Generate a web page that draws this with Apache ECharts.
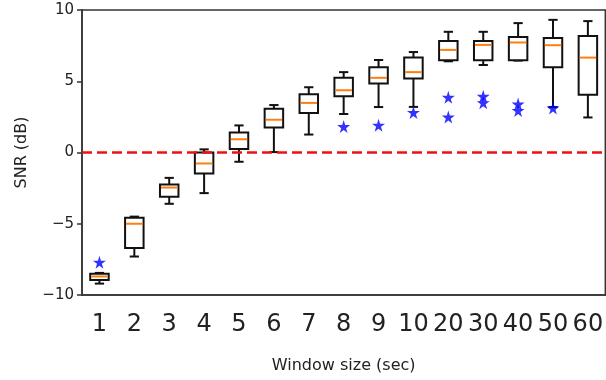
<!DOCTYPE html>
<html>
<head>
<meta charset="utf-8">
<script src="https://cdn.jsdelivr.net/npm/echarts@6/dist/echarts.min.js"></script>
<style>
  html, body { margin: 0; padding: 0; background: #fff; }
  #chart { width: 606px; height: 380px; }
</style>
</head>
<body>
<div id="chart"></div>
<script>
// window sizes on the x axis
const windowSizes = ['1', '2', '3', '4', '5', '6', '7', '8', '9', '10', '20', '30', '40', '50', '60'];

// box statistics (SNR in dB)
const whiskerLow  = [-9.2, -7.3, -3.6, -2.85, -0.65, 0.03, 1.26, 2.7, 3.19, 3.2, 6.4, 6.14, 6.45, 3.19, 2.46];
const q1          = [-8.95, -6.7, -3.1, -1.47, 0.25, 1.75, 2.77, 3.94, 4.84, 5.2, 6.47, 6.47, 6.47, 5.99, 4.06];
const medians     = [-8.7, -5.0, -2.46, -0.77, 0.93, 2.3, 3.48, 4.37, 5.24, 5.64, 7.2, 7.55, 7.72, 7.53, 6.66];
const q3          = [-8.5, -4.58, -2.25, 0.0, 1.4, 3.07, 4.09, 5.24, 5.99, 6.66, 7.83, 7.83, 8.11, 8.04, 8.18];
const whiskerHigh = [-8.45, -4.5, -1.78, 0.22, 1.9, 3.33, 4.58, 5.64, 6.49, 7.05, 8.47, 8.47, 9.08, 9.31, 9.22];

// outliers (stars)
const flierWindow = ['1', '8', '9', '10', '20', '20', '30', '30', '40', '40', '50'];
const flierSnr    = [-7.7, 1.82, 1.92, 2.81, 3.87, 2.49, 3.94, 3.5, 3.4, 2.95, 3.12];

const yTicks = [-10, -5, 0, 5, 10];

const chart = echarts.init(document.getElementById('chart'), null, { renderer: 'canvas' });

const boxData = windowSizes.map((w, i) => [i, whiskerLow[i], q1[i], medians[i], q3[i], whiskerHigh[i]]);
const flierData = flierWindow.map((w, i) => [w, flierSnr[i]]);

const starPath = 'path://M50,0 L61,35 L98,35 L68,57 L79,91 L50,70 L21,91 L32,57 L2,35 L39,35 Z';

function renderBox(params, api) {
  const x = api.coord([api.value(0), 0])[0];
  const yLow = api.coord([api.value(0), api.value(1)])[1];
  const yQ1 = api.coord([api.value(0), api.value(2)])[1];
  const yMed = api.coord([api.value(0), api.value(3)])[1];
  const yQ3 = api.coord([api.value(0), api.value(4)])[1];
  const yHigh = api.coord([api.value(0), api.value(5)])[1];
  const band = api.size([1, 0])[0];
  const boxW = band * 0.53;
  const capW = boxW / 2;
  const black = { stroke: '#111', lineWidth: 2, fill: null };
  return {
    type: 'group',
    children: [
      { type: 'line', shape: { x1: x, y1: yQ1, x2: x, y2: yLow }, style: black },
      { type: 'line', shape: { x1: x, y1: yQ3, x2: x, y2: yHigh }, style: black },
      { type: 'line', shape: { x1: x - capW / 2, y1: yLow, x2: x + capW / 2, y2: yLow }, style: black },
      { type: 'line', shape: { x1: x - capW / 2, y1: yHigh, x2: x + capW / 2, y2: yHigh }, style: black },
      { type: 'rect', shape: { x: x - boxW / 2, y: yQ3, width: boxW, height: yQ1 - yQ3 },
        style: { stroke: '#111', lineWidth: 2, fill: '#fff' } },
      { type: 'line', shape: { x1: x - boxW / 2 + 1, y1: yMed, x2: x + boxW / 2 - 1, y2: yMed },
        style: { stroke: '#ff7f0e', lineWidth: 2 } }
    ]
  };
}

const option = {
  animation: false,
  backgroundColor: '#fff',
  grid: {
    left: 82,
    top: 10,
    bottom: 85,
    width: 528,
    show: true,
    borderColor: '#333',
    borderWidth: 1.5
  },
  xAxis: {
    type: 'category',
    data: windowSizes,
    boundaryGap: true,
    name: 'Window size (sec)',
    nameLocation: 'middle',
    nameGap: 63,
    nameTextStyle: { fontSize: 16, color: '#222', fontFamily: 'DejaVu Sans' },
    axisLine: { onZero: false, lineStyle: { color: '#333', width: 1.5 } },
    axisTick: { alignWithLabel: true, length: 6, lineStyle: { color: '#333', width: 1.5 } },
    axisLabel: { fontSize: 24, color: '#222', margin: 18, fontFamily: 'DejaVu Sans', interval: 0 },
    splitLine: { show: false }
  },
  yAxis: {
    type: 'value',
    min: -10,
    max: 10,
    interval: 5,
    name: 'SNR (dB)',
    nameLocation: 'middle',
    nameGap: 52,
    nameTextStyle: { fontSize: 16, color: '#222', fontFamily: 'DejaVu Sans' },
    axisLine: { show: true, onZero: false, lineStyle: { color: '#333', width: 1.5 } },
    axisTick: { show: true, length: 5, lineStyle: { color: '#333', width: 1.5 } },
    axisLabel: {
      fontSize: 15, color: '#222', margin: 8, fontFamily: 'DejaVu Sans',
      formatter: v => yTicks.includes(v) ? (v < 0 ? '\u2212' + Math.abs(v) : String(v)) : ''
    },
    splitLine: { show: false }
  },
  series: [
    {
      type: 'line',
      data: [],
      silent: true,
      markLine: {
        silent: true,
        symbol: 'none',
        label: { show: false },
        lineStyle: { color: '#ee1111', width: 2.5, type: [10, 5] },
        data: [{ yAxis: 0 }]
      },
      z: 1
    },
    {
      type: 'custom',
      renderItem: renderBox,
      data: boxData,
      encode: { x: 0, y: [1, 2, 3, 4, 5] },
      z: 3
    },
    {
      type: 'scatter',
      data: flierData,
      symbol: starPath,
      symbolSize: 13,
      itemStyle: { color: '#0000ff' },
      z: 4
    }
  ]
};

chart.setOption(option);
</script>
</body>
</html>
